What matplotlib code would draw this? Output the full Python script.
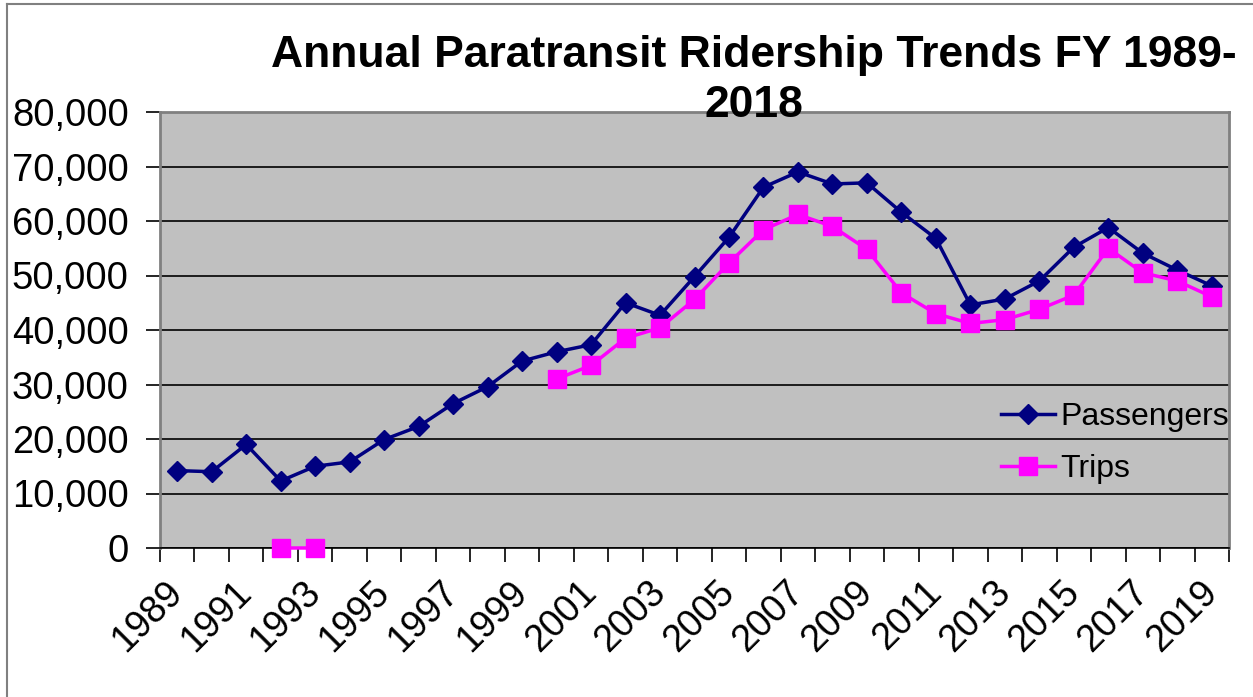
import matplotlib
matplotlib.use("Agg")
import matplotlib.pyplot as plt
import numpy as np
from matplotlib.lines import Line2D

years = list(range(1989, 2020))
passengers = [14200, 14000, 19000, 12300, 15000, 15800, 19900, 22300, 26500, 29600,
              34300, 36000, 37300, 45000, 42700, 49800, 57000, 66200, 69000, 66800,
              67000, 61600, 56800, 44600, 45700, 49000, 55200, 58800, 54100, 51000, 48100]
trips = [None, None, None, 0, 0, None, None, None, None, None,
         None, 31000, 33500, 38500, 40400, 45600, 52300, 58400, 61200, 59000,
         54800, 46800, 43000, 41200, 41900, 43800, 46400, 55000, 50500, 49000, 46100]
title = "Annual Paratransit Ridership Trends FY 1989-\n2018"

plt.rcParams['font.family'] = ['Liberation Sans', 'DejaVu Sans']

W, H = 1253, 697
fig = plt.figure(figsize=(W/100, H/100), dpi=100)
fig.patch.set_facecolor('white')
ax = fig.add_axes([160/W, 1-548/H, (1229-160)/W, (548-112)/H])
ax.set_facecolor('#C0C0C0')

x = np.arange(len(years))
p = np.array(passengers, dtype=float)
t = np.array([np.nan if v is None else v for v in trips], dtype=float)

ax.plot(x, p, color='#000080', lw=2.5, marker='D', ms=10.5, mec='#000080', mfc='#000080',
        label='Passengers', clip_on=False, zorder=3)
ax.plot(x, t, color='#FF00FF', lw=2.5, marker='s', ms=13, mec='#FF00FF', mfc='#FF00FF',
        label='Trips', clip_on=False, zorder=3)

ax.set_xlim(-0.5, len(years) - 0.5)
ax.set_ylim(0, 80000)
ax.set_yticks(np.arange(0, 80001, 10000))
ax.set_yticklabels([f"{v:,}" for v in range(0, 80001, 10000)], fontsize=27.5)
ax.yaxis.grid(True, color='black', lw=1.2)
ax.set_axisbelow(True)
ax.tick_params(axis='y', direction='out', length=10, width=1.2, color='black', pad=12.5)

ax.set_xticks(x[::2])
ax.set_xticklabels([str(y) for y in years[::2]], fontsize=27, rotation=45,
                   ha='right', va='center', rotation_mode='anchor')
ax.set_xticks(np.arange(-0.5, len(years), 1), minor=True)
ax.tick_params(axis='x', which='major', length=0, pad=28)
ax.tick_params(axis='x', which='minor', direction='out', length=10, width=1.2, color='black')

for s in ['left', 'top', 'right']:
    ax.spines[s].set_color('#808080')
    ax.spines[s].set_linewidth(2)
ax.spines['bottom'].set_color('black')
ax.spines['bottom'].set_linewidth(1.2)

ax.legend(loc='center left', bbox_to_anchor=(1001/W, 1-443/H), bbox_transform=fig.transFigure,
          frameon=False, fontsize=23, handlelength=1.7, handletextpad=0.15,
          labelspacing=0.68, borderpad=0, borderaxespad=0)

fig.text(754/W, 1-35/H, title, ha='center', va='top', fontsize=32, fontweight='bold',
         linespacing=1.27)

fig.add_artist(Line2D([7/W, 7/W], [0, 1-4/H], transform=fig.transFigure, color='#808080', lw=1.5))
fig.add_artist(Line2D([7/W, 1], [1-4/H, 1-4/H], transform=fig.transFigure, color='#808080', lw=1.5))

fig.savefig('out.png', dpi=100)
